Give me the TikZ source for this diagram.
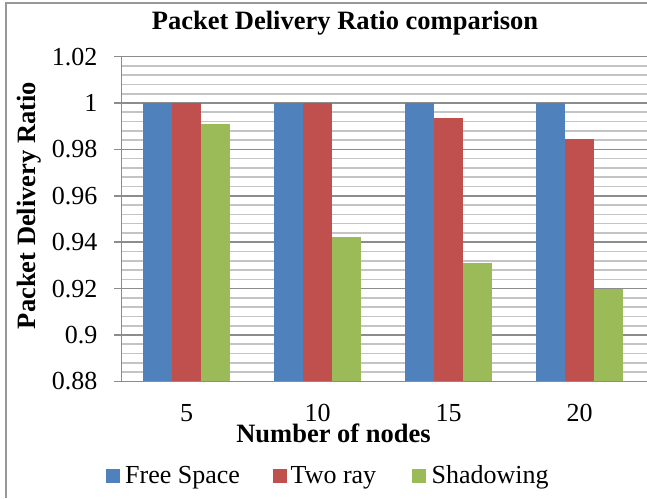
\documentclass[tikz,border=0pt]{standalone}
\usepackage{fontspec}
\setmainfont{Liberation Serif}
\definecolor{fsblue}{HTML}{4F81BD}
\definecolor{trred}{HTML}{C0504D}
\definecolor{shgreen}{HTML}{9BBB59}
\definecolor{majgray}{HTML}{8C8C8C}
\definecolor{mingray}{HTML}{C4C4C4}
\definecolor{framegray}{HTML}{989898}
\tikzset{
  lbl/.style={inner sep=0pt, font=\fontsize{26}{30}\selectfont},
  boldlbl/.style={inner sep=0pt, font=\fontsize{26.5}{30}\selectfont\bfseries},
  minorline/.style={draw=mingray, line width=1.6pt},
  majorline/.style={draw=majgray, line width=1.6pt},
}
\begin{document}
\begin{tikzpicture}[x=1pt,y=-1pt]
\useasboundingbox (0,0) rectangle (647,498);
\fill[white] (0,0) rectangle (647,498);
% frame
\draw[framegray, line width=2pt] (6,498) -- (6,2.5) -- (647,2.5);
% minor gridlines
\foreach \i in {1,...,34} {
  \draw[minorline] (121,{381.4-\i*9.28}) -- (647,{381.4-\i*9.28});
}
% major gridlines with tick marks
\foreach \i in {0,5,...,35} {
  \draw[majorline] (114,{381.4-\i*9.28}) -- (647,{381.4-\i*9.28});
}
% vertical axis
\draw[majorline] (121.5,56.6) -- (121.5,382);
% bars
\foreach \g/\a/\b/\c in {0/1/1/0.9911, 1/1/1/0.9422, 2/1/0.9935/0.9312, 3/1/0.9845/0.9198} {
  \pgfmathsetmacro{\cx}{186.5+131*\g}
  \fill[fsblue]  ({\cx-43.65},{103+(1-\a)*2320}) rectangle ({\cx-14.55},380.6);
  \fill[trred]   ({\cx-14.55},{103+(1-\b)*2320}) rectangle ({\cx+14.55},380.6);
  \fill[shgreen] ({\cx+14.55},{103+(1-\c)*2320}) rectangle ({\cx+43.65},380.6);
}
% tick labels
\foreach \i/\t in {0/0.88, 5/0.9, 10/0.92, 15/0.94, 20/0.96, 25/0.98, 30/1, 35/1.02} {
  \node[lbl, anchor=east] (tick\i) at (97.5,{381.4-\i*9.28}) {\t};
}
% category labels
\node[lbl, anchor=base] (c5)  at (186.5,421.5) {5};
\node[lbl, anchor=base] (c10) at (317.5,421.5) {10};
\node[lbl, anchor=base] (c15) at (448.5,421.5) {15};
\node[lbl, anchor=base] (c20) at (579.5,421.5) {20};
% titles
\node[boldlbl, anchor=base] (title) at (345,29) {Packet Delivery Ratio comparison};
\node[boldlbl, anchor=base] (xlab) at (333.5,442) {Number of nodes};
\node[boldlbl, anchor=base, rotate=90] (ylab) at (35.5,205.5) {Packet Delivery Ratio};
% legend
\fill[fsblue]  (106,469) rectangle (120,483);
\node[lbl, anchor=base west] (lg1) at (125,483) {Free Space};
\fill[trred]   (272.7,469) rectangle (286.7,483);
\node[lbl, anchor=base west] (lg2) at (290.5,483) {Two ray};
\fill[shgreen] (411.7,469) rectangle (425.7,483);
\node[lbl, anchor=base west] (lg3) at (431.5,483) {Shadowing};
\end{tikzpicture}
\end{document}
